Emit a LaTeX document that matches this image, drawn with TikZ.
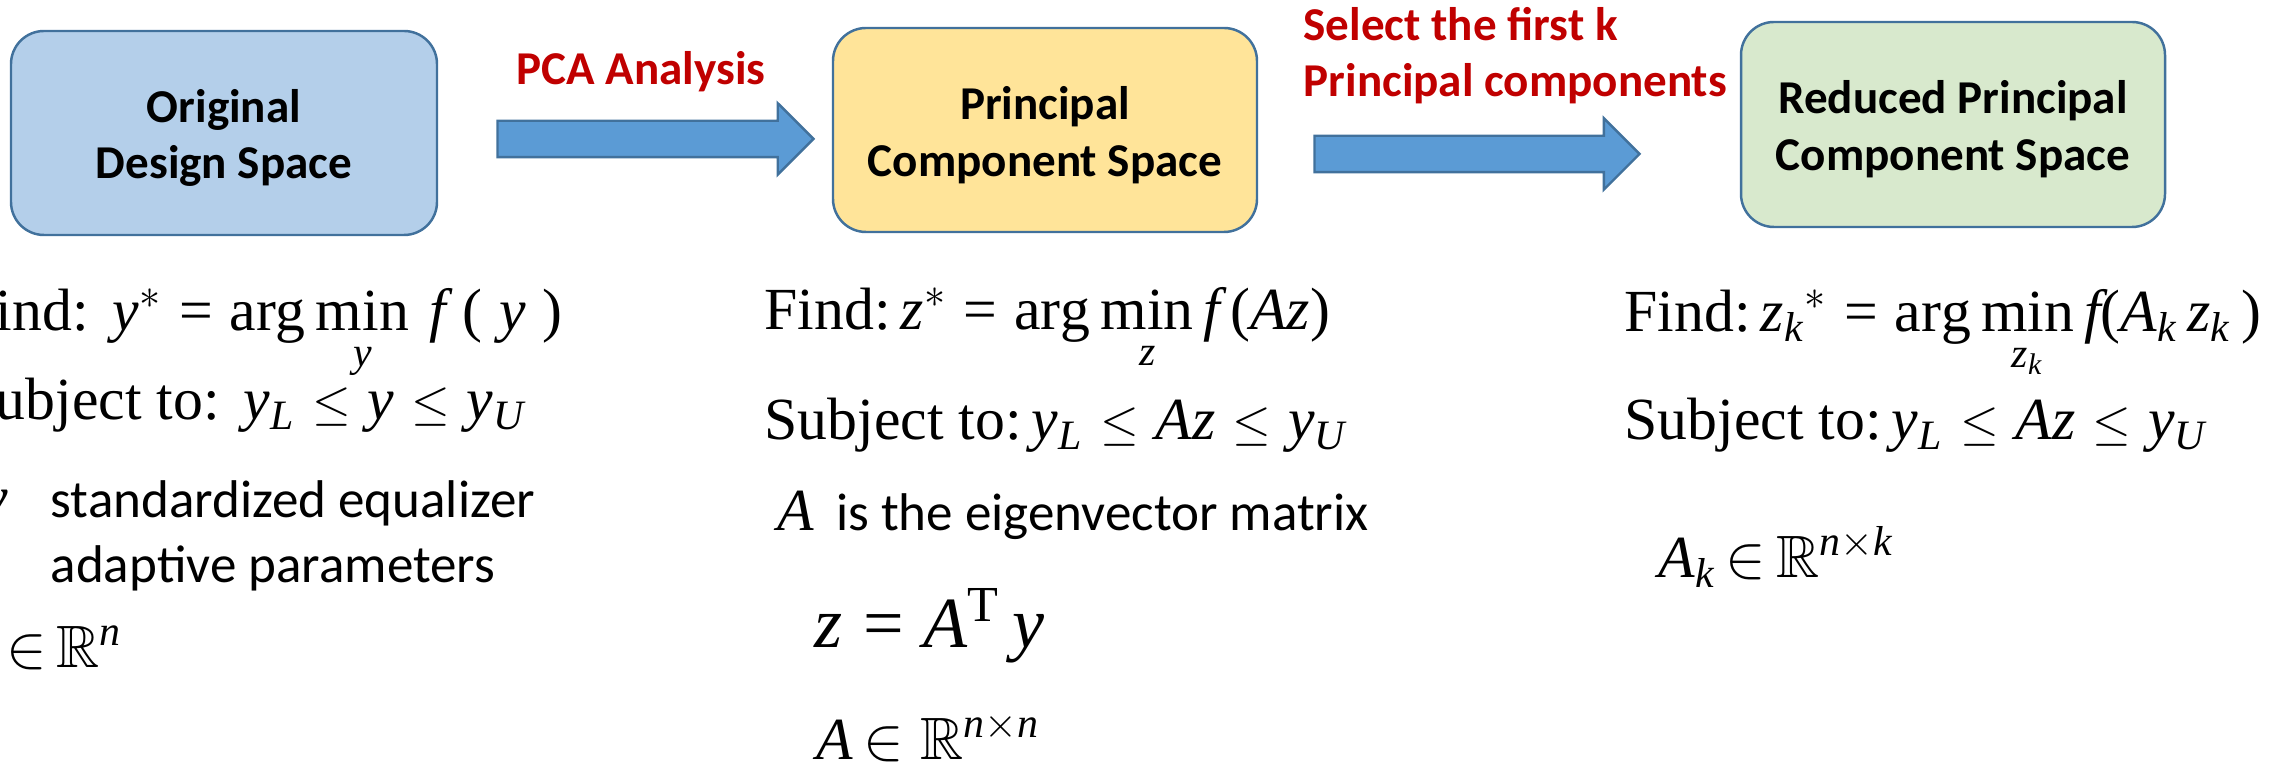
\documentclass[tikz,border=0pt]{standalone}
\usepackage{amsmath,amssymb}
\usepackage{graphicx}
\usepackage[no-math]{fontspec}
\setmainfont{Liberation Serif}
\setsansfont{Carlito}
\usepackage{xcolor}
\usetikzlibrary{shapes.arrows,positioning}

% Times-like letters and operators in math
\begingroup\edef\x{\endgroup
    \noexpand\DeclareSymbolFont{letters}{TU}{\rmdefault}{m}{it}%
    \noexpand\DeclareSymbolFont{operators}{TU}{\rmdefault}{m}{n}}\x
\newcommand{\sle}{\mathrel{\scalebox{0.82}{$\le$}}}
\newcommand{\setin}{{\in}}

\definecolor{origfill}{RGB}{180,207,234}
\definecolor{pcfill}{RGB}{255,228,153}
\definecolor{redfill}{RGB}{216,233,205}
\definecolor{edgeblue}{RGB}{65,113,156}
\definecolor{arrowblue}{RGB}{91,155,213}
\definecolor{labelred}{RGB}{192,0,0}

\begin{document}
\begin{tikzpicture}[
        spacebox/.style={draw=edgeblue, line width=0.7pt, rounded corners=0.33cm,
            minimum width=4.24cm, minimum height=2.04cm, inner sep=0pt, align=center,
            text height=1.0cm, font=\sffamily\bfseries\fontsize{13.4}{16.2}\selectfont},
        origspace/.style={spacebox, fill=origfill, minimum width=4.26cm},
        pcspace/.style={spacebox, fill=pcfill},
        redspace/.style={spacebox, fill=redfill, minimum height=2.05cm},
        blockarrow/.style={single arrow, draw=edgeblue, fill=arrowblue, line width=0.7pt,
            inner xsep=0pt, inner ysep=0.17cm, single arrow head extend=0.175cm},
        steplabel/.style={text=labelred, inner sep=0pt,
            font=\sffamily\bfseries\fontsize{13.4}{16.2}\selectfont},
        eqn/.style={anchor=base west, inner sep=0pt, font=\fontsize{17}{21}\selectfont},
        bigeqn/.style={eqn, font=\fontsize{20.5}{24}\selectfont},
        note/.style={anchor=base west, inner sep=0pt, align=left,
            font=\sffamily\fontsize{15.1}{18.7}\selectfont}
    ]
        \useasboundingbox (0,0) rectangle (22.89,-7.66);
        \clip (0,0) rectangle (22.89,-7.66);

        \node[origspace] (orig) at (2.24,-1.33) {Original\\Design Space};
        \node[pcspace] (pcs) at (10.45,-1.30) {Principal\\Component Space};
        \node[redspace] (rpcs) at (19.53,-1.245) {Reduced Principal\\Component Space};

        \node[blockarrow, minimum height=3.16cm, right=0.58cm of orig, yshift=-0.06cm] (pca) {};
        \node[blockarrow, minimum height=3.25cm, right=0.55cm of pcs, yshift=-0.24cm] (select) {};

        \node[steplabel, anchor=base] (pcalbl) at (6.41,-0.85) {PCA Analysis};
        \node[steplabel, align=left, anchor=base west] (selectlbl) at (13.03,-0.97) {Select the first k\\Principal components};

        % original design space
        \node[eqn] (find1) at (-0.38,-3.31) {Find:\hspace{0.4em}$y^{*} = \arg\min\limits_{y}\,f\;(\;y\;)$};
        \node[eqn] (subj1) at (-0.38,-4.20) {Subject to:\hspace{0.4em}$y_{L} \sle y \sle y_{U}$};
        \node[eqn, anchor=base east] (yvar) at (0.09,-5.18) {$y$};
        \node[note] (ydesc) at (0.50,-5.83) {standardized equalizer\\adaptive parameters};
        \node[eqn] (ydom) at (-0.38,-6.68) {$y\;\setin\,\mathbb{R}^{n}$};

        % principal component space
        \node[eqn] (find2) at (7.64,-3.30) {Find:\,$z^{*} = \arg\min\limits_{z} f\,(Az)$};
        \node[eqn] (subj2) at (7.64,-4.40) {Subject to:\,$y_{L} \sle Az \sle y_{U}$};
        \node[eqn] (adef) at (7.77,-5.31) {$A$\hspace{0.22cm}{\sffamily\fontsize{15.1}{18.7}\selectfont is the eigenvector matrix}};
        \node[bigeqn] (ztrans) at (8.14,-6.48) {$z = A^{\mathrm{T}}\,y$};
        \node[eqn] (adom) at (8.16,-7.60) {$A\,\setin\;\mathbb{R}^{n\times n}$};

        % reduced principal component space
        \node[eqn] (find3) at (16.24,-3.32) {Find:\,${z_{k}}^{*} = \arg\min\limits_{z_{k}} f(A_{k}\,z_{k}\,)$};
        \node[eqn] (subj3) at (16.24,-4.40) {Subject to:\,$y_{L} \sle Az \sle y_{U}$};
        \node[eqn] (akdom) at (16.58,-5.78) {$A_{k}\,\setin\,\mathbb{R}^{n\times k}$};
    \end{tikzpicture}
\end{document}
